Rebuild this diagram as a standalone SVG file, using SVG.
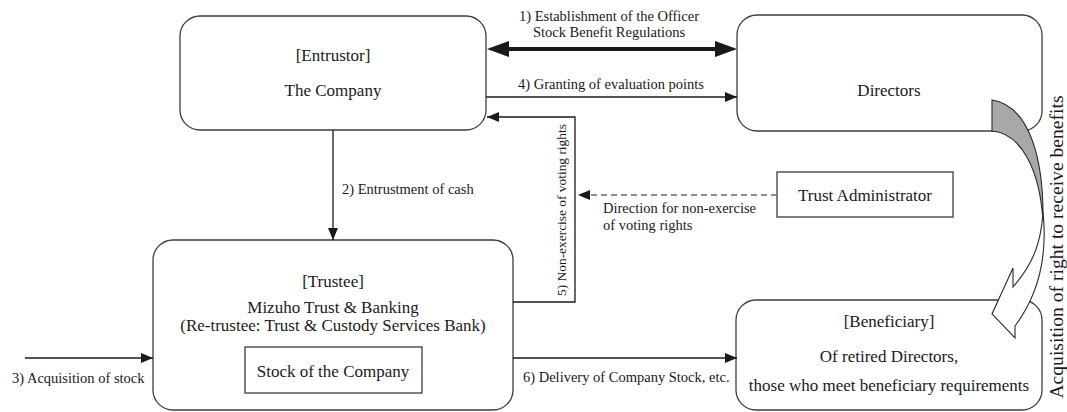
<svg xmlns="http://www.w3.org/2000/svg" width="1067" height="412" viewBox="0 0 1067 412">
  <style>
    .box { fill: #ffffff; stroke: #3c3c3c; stroke-width: 1.3; }
    .t { font-family: "Liberation Serif", "Times New Roman", serif; fill: #1a1a1a; }
    .big { font-size: 17px; }
    .lbl { font-size: 14.5px; }
    .mid { text-anchor: middle; }
    .line { fill: none; stroke: #1a1a1a; stroke-width: 1.3; }
    .dash { fill: none; stroke: #6a6a6a; stroke-width: 1.3; stroke-dasharray: 6 4; }
  </style>
  <defs>
    <marker id="head" markerUnits="userSpaceOnUse" viewBox="0 0 12 10" markerWidth="12" markerHeight="10" refX="12" refY="5" orient="auto">
      <path d="M0,0 L12,5 L0,10 Z" fill="#1a1a1a"/>
    </marker>
  </defs>

  <rect width="1067" height="412" fill="#ffffff"/>

  <!-- Nodes -->
  <g id="entrustor">
    <rect class="box" x="180" y="16" width="306" height="114" rx="20"/>
    <text class="t big mid" x="333" y="61">[Entrustor]</text>
    <text class="t big mid" x="333" y="96">The Company</text>
  </g>

  <g id="directors">
    <rect class="box" x="737" y="15" width="305" height="116" rx="20"/>
    <text class="t big mid" x="889" y="96">Directors</text>
  </g>

  <g id="trust-administrator">
    <rect class="box" x="777" y="172" width="176" height="45"/>
    <text class="t big mid" x="865" y="201">Trust Administrator</text>
  </g>

  <g id="trustee">
    <rect class="box" x="153" y="240" width="360" height="170" rx="20"/>
    <text class="t big mid" x="333" y="287">[Trustee]</text>
    <text class="t big mid" x="333" y="313">Mizuho Trust &amp; Banking</text>
    <text class="t big mid" x="333" y="331">(Re-trustee: Trust &amp; Custody Services Bank)</text>
    <g id="company-stock">
      <rect class="box" x="245" y="347" width="177" height="46"/>
      <text class="t big mid" x="333" y="377">Stock of the Company</text>
    </g>
  </g>

  <g id="beneficiary">
    <rect class="box" x="736" y="300" width="306" height="110" rx="20"/>
    <text class="t big mid" x="889" y="327">[Beneficiary]</text>
    <text class="t big mid" x="889" y="362">Of retired Directors,</text>
    <text class="t big mid" x="889" y="391">those who meet beneficiary requirements</text>
  </g>

  <!-- Connectors -->
  <g id="connectors">
    <!-- 1) two-way thick arrow -->
    <polygon points="487,49 509,41 509,47 715,47 715,41 737,49 715,57 715,51 509,51 509,57" fill="#1a1a1a"/>
    <text class="t lbl mid" x="609" y="21">1) Establishment of the Officer</text>
    <text class="t lbl mid" x="609" y="37">Stock Benefit Regulations</text>

    <!-- 4) -->
    <line class="line" x1="486" y1="97" x2="737" y2="97" marker-end="url(#head)"/>
    <text class="t lbl mid" x="611" y="89">4) Granting of evaluation points</text>

    <!-- 2) -->
    <line class="line" x1="333" y1="130" x2="333" y2="240" marker-end="url(#head)"/>
    <text class="t lbl" x="342" y="194">2) Entrustment of cash</text>

    <!-- 3) -->
    <line class="line" x1="25" y1="358" x2="153" y2="358" marker-end="url(#head)"/>
    <text class="t lbl" x="12" y="383">3) Acquisition of stock</text>

    <!-- 5) -->
    <polyline class="line" points="513,302 575,302 575,117 487,117" marker-end="url(#head)"/>
    <text class="t mid" font-size="13.4" transform="translate(566,210) rotate(-90)">5) Non-exercise of voting rights</text>

    <!-- direction from trust administrator -->
    <line class="dash" x1="777" y1="195" x2="578" y2="195" marker-end="url(#head)"/>
    <text class="t lbl" x="603" y="213">Direction for non-exercise</text>
    <text class="t lbl" x="603" y="230">of voting rights</text>

    <!-- 6) -->
    <line class="line" x1="513" y1="358" x2="737" y2="358" marker-end="url(#head)"/>
    <text class="t lbl" x="523" y="382">6) Delivery of Company Stock, etc.</text>

    <!-- curved arrow: directors to beneficiary -->
    <path d="M992,100 L992,131 C1020,133 1040,168 1043,222 C1044,160 1030,106 992,100 Z" fill="#a8a8a8" stroke="#2a2a2a" stroke-width="1.1"/>
    <path d="M1043,212 C1047,250 1042,290 1015,326 L1015,338 L992,314 L1013,268 L1013,287 C1032,265 1041,245 1043,212 Z" fill="#ffffff" stroke="#2a2a2a" stroke-width="1.1"/>
    <text class="t mid" font-size="19.6" transform="translate(1063,247) rotate(-90)">Acquisition of right to receive benefits</text>
  </g>
</svg>
